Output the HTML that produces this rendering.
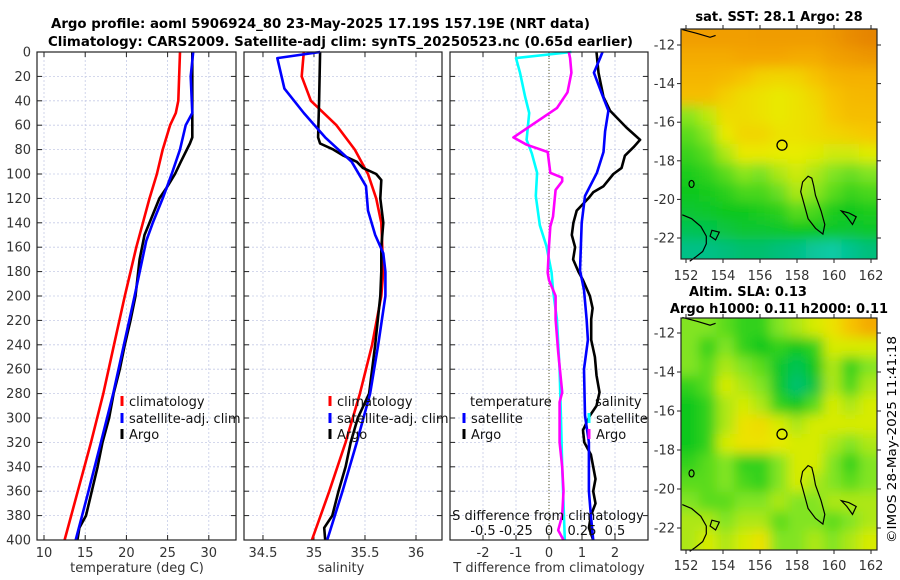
<!DOCTYPE html>
<html><head><meta charset="utf-8"><style>
html,body{margin:0;padding:0;background:#fff;}
svg{display:block;font-family:"DejaVu Sans","Liberation Sans",sans-serif;}
</style></head><body>
<svg id="fig" width="900" height="580" viewBox="0 0 900 580" xmlns="http://www.w3.org/2000/svg">
<defs>
<filter id="mapblur" x="-10%" y="-10%" width="120%" height="120%"><feGaussianBlur stdDeviation="6"/></filter>
<clipPath id="clipsst"><rect x="681" y="29" width="196" height="230"/></clipPath>
<clipPath id="clipsla"><rect x="681" y="318" width="196" height="232"/></clipPath>
</defs>
<rect width="900" height="580" fill="#fff"/>
<text x="51" y="28" font-size="13" font-weight="bold" textLength="539" lengthAdjust="spacingAndGlyphs">Argo profile: aoml 5906924_80 23-May-2025 17.19S 157.19E (NRT data)</text>
<text x="48" y="46" font-size="13" font-weight="bold" textLength="585" lengthAdjust="spacingAndGlyphs">Climatology: CARS2009. Satellite-adj clim: synTS_20250523.nc (0.65d earlier)</text>
<text x="779" y="21" font-size="13" font-weight="bold" text-anchor="middle">sat. SST: 28.1 Argo: 28</text>
<text x="748" y="296" font-size="13" font-weight="bold" text-anchor="middle">Altim. SLA: 0.13</text>
<text x="779" y="313" font-size="13" font-weight="bold" text-anchor="middle">Argo h1000: 0.11 h2000: 0.11</text>
<text transform="translate(896,543) rotate(-90)" font-size="12.5" textLength="207" lengthAdjust="spacingAndGlyphs">©IMOS 28-May-2025 11:41:18</text>
<g id="plots"></g>
</svg>
<script>
// ---- data ----
const depthTicks = [0,20,40,60,80,100,120,140,160,180,200,220,240,260,280,300,320,340,360,380,400];
const tTicks = [10,15,20,25,30];
const sTicks = [34.5,35,35.5,36];
const dTicks = [-2,-1,0,1,2];
const sdTicks = [-0.5,-0.25,0,0.25,0.5];
const sdTickLabels = ["-0.5","-0.25","0","0.25","0.5"];

const tClimDepth = [0,40,50,60,80,100,120,140,160,200,240,280,320,360,400];
const tClimVal   = [26.5,26.3,26.0,25.3,24.4,23.7,22.8,22.0,21.2,19.8,18.5,17.2,15.7,14.1,12.5];
const tSatDepth = [0,20,50,60,80,100,120,140,155,200,240,280,320,360,400];
const tSatVal   = [28.1,27.8,28.0,27.2,26.5,25.5,24.4,23.2,22.4,21.0,19.7,18.4,16.9,15.4,13.85];
const tArgoDepth = [0,50,55,70,75,90,100,110,120,140,150,170,200,220,240,260,280,300,320,340,360,380,390,400];
const tArgoVal   = [28.0,28.0,28.0,28.0,27.7,26.6,25.9,25.0,24.0,22.8,22.2,21.6,21.1,20.5,19.8,19.2,18.45,17.9,17.1,16.5,15.8,15.1,14.3,14.05];

const sClimDepth = [0,20,40,60,80,100,120,140,160,180,200,240,280,320,360,400];
const sClimVal   = [34.90,34.88,34.97,35.22,35.40,35.53,35.61,35.66,35.67,35.68,35.66,35.57,35.45,35.31,35.15,34.98];
const sSatDepth = [0,5,30,50,70,90,110,130,150,165,180,200,240,280,320,360,400];
const sSatVal   = [35.06,34.64,34.71,34.90,35.11,35.37,35.51,35.53,35.60,35.68,35.70,35.70,35.63,35.55,35.42,35.28,35.13];
const sArgoDepth = [0,40,70,75,80,85,90,95,100,105,120,140,160,180,200,240,280,300,320,340,360,380,390,400];
const sArgoVal   = [35.06,35.05,35.04,35.06,35.19,35.29,35.42,35.48,35.61,35.66,35.65,35.68,35.66,35.66,35.65,35.60,35.54,35.43,35.36,35.31,35.24,35.18,35.10,35.11];

// T differences (deg C)
const dtSatDepth = [0,5,17,37,48,65,82,99,118,140,179,195,219,236,260,298,320,360,380,400];
const dtSatVal   = [1.62,1.55,1.36,1.64,1.80,1.70,1.65,1.45,1.09,0.99,0.94,1.06,1.14,1.18,1.06,1.09,1.21,1.21,1.27,1.34];
const dtArgoDepth = [0,17,37,48,62,72,78,85,95,100,110,115,120,130,140,150,160,170,180,187,200,210,219,236,250,265,279,290,298,310,320,330,340,350,360,370,380,390,400];
const dtArgoVal   = [1.44,1.50,1.65,1.85,2.35,2.76,2.56,2.30,2.20,1.95,1.65,1.34,1.19,0.84,0.74,0.69,0.79,0.73,0.89,1.03,1.24,1.32,1.28,1.28,1.39,1.44,1.53,1.44,1.24,1.03,1.07,1.27,1.34,1.41,1.34,1.41,1.27,1.21,1.34];
// S differences (psu)
const dsSatDepth = [0,5,17,37,50,72,83,99,118,142,159,181,195,219,260,298,340,400];
const dsSatVal   = [0.17,-0.25,-0.22,-0.18,-0.15,-0.17,-0.13,-0.09,-0.10,-0.07,-0.02,0.02,0.03,0.06,0.08,0.09,0.10,0.12];
const dsArgoDepth = [0,5,17,33,46,70,76,82,99,103,106,113,135,143,159,181,187,200,219,246,279,287,298,320,340,360,380,392,400];
const dsArgoVal   = [0.15,0.16,0.17,0.14,0.06,-0.27,-0.17,-0.01,0.01,0.10,0.10,0.05,0.03,0.01,0.00,-0.01,0.00,0.05,0.05,0.07,0.10,0.08,0.08,0.08,0.10,0.11,0.10,0.07,0.11];

// maps: 11 lon columns x 12 lat rows (north to south), normalised colour values
const lonTicks = [152,154,156,158,160,162];
const latTicks = [-12,-14,-16,-18,-20,-22];
const sstGrid = [
[0.85,0.85,0.85,0.85,0.86,0.86,0.86,0.86,0.88,0.92,0.95],
[0.80,0.80,0.80,0.82,0.82,0.82,0.80,0.80,0.84,0.86,0.88],
[0.76,0.76,0.74,0.70,0.65,0.64,0.65,0.70,0.76,0.78,0.78],
[0.72,0.72,0.66,0.62,0.60,0.58,0.60,0.64,0.70,0.74,0.75],
[0.46,0.52,0.62,0.62,0.60,0.58,0.60,0.62,0.68,0.72,0.72],
[0.40,0.46,0.58,0.64,0.64,0.60,0.60,0.62,0.64,0.66,0.68],
[0.36,0.40,0.50,0.58,0.58,0.57,0.57,0.56,0.54,0.54,0.56],
[0.32,0.35,0.40,0.46,0.44,0.50,0.54,0.50,0.45,0.42,0.45],
[0.30,0.31,0.34,0.38,0.38,0.42,0.50,0.46,0.40,0.36,0.38],
[0.27,0.28,0.30,0.30,0.32,0.34,0.40,0.38,0.32,0.30,0.32],
[0.22,0.23,0.25,0.27,0.27,0.28,0.30,0.30,0.28,0.27,0.28],
[0.14,0.14,0.16,0.18,0.18,0.16,0.14,0.10,0.08,0.12,0.16]];
const slaGrid = [
[0.45,0.45,0.40,0.35,0.35,0.45,0.50,0.55,0.60,0.70,0.80],
[0.45,0.35,0.45,0.35,0.30,0.35,0.30,0.35,0.55,0.55,0.55],
[0.45,0.40,0.50,0.45,0.40,0.28,0.22,0.30,0.50,0.35,0.45],
[0.35,0.40,0.55,0.50,0.45,0.28,0.18,0.25,0.50,0.38,0.50],
[0.30,0.35,0.50,0.55,0.50,0.35,0.30,0.40,0.55,0.50,0.55],
[0.30,0.35,0.50,0.60,0.62,0.55,0.50,0.55,0.55,0.55,0.55],
[0.30,0.35,0.55,0.60,0.60,0.58,0.55,0.55,0.50,0.45,0.50],
[0.35,0.40,0.45,0.35,0.35,0.45,0.55,0.55,0.45,0.35,0.45],
[0.40,0.40,0.45,0.38,0.35,0.45,0.55,0.50,0.45,0.40,0.45],
[0.45,0.40,0.40,0.45,0.45,0.50,0.45,0.45,0.50,0.50,0.50],
[0.50,0.50,0.45,0.50,0.50,0.40,0.45,0.45,0.40,0.45,0.50],
[0.50,0.55,0.50,0.55,0.60,0.45,0.45,0.50,0.45,0.50,0.55]];
const argoLon = 157.19, argoLat = -17.19;
const islandLon = [158.3,158.6,158.8,158.9,159.0,159.3,159.5,159.4,159.0,158.6,158.4,158.2,158.3];
const islandLat = [-19.1,-18.8,-18.9,-19.3,-19.8,-20.6,-21.3,-21.8,-21.5,-21.0,-20.3,-19.6,-19.1];
const coastLon = [151.8,152.3,152.8,153.1,153.1,152.9,152.5,152.2];
const coastLat = [-20.8,-21.0,-21.4,-21.9,-22.3,-22.7,-23.0,-23.2];
const reefLon = [160.4,160.8,161.2,161.0,160.7,160.4];
const reefLat = [-20.6,-20.7,-20.9,-21.3,-20.9,-20.6];

// ---- helpers ----
const NS = "http://www.w3.org/2000/svg";
const root = document.getElementById('plots');
function mk(tag, attrs, parent, text){
  const e = document.createElementNS(NS, tag);
  for (const k in attrs) e.setAttribute(k, attrs[k]);
  if (text !== undefined) e.textContent = text;
  (parent || root).appendChild(e);
  return e;
}
const Y0 = 52, Y1 = 540;
const yD = d => Y0 + (d/400)*(Y1-Y0);
function lin(d0,d1,r0,r1){ return v => r0 + (v-d0)/(d1-d0)*(r1-r0); }
const panels = [
  {x0:37, x1:236, name:'temperature-panel', xs: lin(9.15,33.3,37,236), ticks:tTicks, labels:tTicks.map(String), xlabel:'temperature (deg C)', lx:137},
  {x0:244, x1:442, name:'salinity-panel', xs: lin(34.314,36.255,244,442), ticks:sTicks, labels:sTicks.map(String), xlabel:'salinity', lx:341},
  {x0:450, x1:648, name:'difference-panel', xs: lin(-3,3,450,648), ticks:dTicks, labels:dTicks.map(String), xlabel:'T difference from climatology', lx:549}
];
panels.forEach((p, pi) => {
  const g = mk('g', {});
  
  
  p.g = g;
  depthTicks.forEach(d => {
    if (d>0 && d<400) {
      const l = mk('line', {x1:p.x0, x2:p.x1, y1:yD(d), y2:yD(d), stroke:'#c5cbe6', 'stroke-width':0.8, 'stroke-dasharray':'2,2'}, g);
      
      
    }
    mk('line', {x1:p.x0, x2:p.x0+5, y1:yD(d), y2:yD(d), stroke:'#222', 'stroke-width':1}, g);
    mk('line', {x1:p.x1-5, x2:p.x1, y1:yD(d), y2:yD(d), stroke:'#222', 'stroke-width':1}, g);
    if (pi === 0) {
      const t = mk('text', {x:31, y:yD(d)+4.5, 'font-size':13, 'text-anchor':'end', fill:'#333'}, g, String(d));
      
      
    }
  });
  p.ticks.forEach((v, i) => {
    const x = p.xs(v);
    const l = mk('line', {x1:x, x2:x, y1:Y0, y2:Y1, stroke:'#c5cbe6', 'stroke-width':0.8, 'stroke-dasharray':'2,2'}, g);
    
    
    mk('line', {x1:x, x2:x, y1:Y1-5, y2:Y1, stroke:'#222'}, g);
    mk('line', {x1:x, x2:x, y1:Y0, y2:Y0+5, stroke:'#222'}, g);
    const t = mk('text', {x:x, y:557, 'font-size':13, 'text-anchor':'middle', fill:'#333'}, g, p.labels[i]);
    
    
  });
  const xl = mk('text', {x:p.lx, y:572, 'font-size':13, 'text-anchor':'middle', fill:'#333'}, g, p.xlabel);
  
  
});
const pd = panels[2];
const zl = mk('line', {x1:pd.xs(0), x2:pd.xs(0), y1:Y0, y2:Y1, stroke:'#5a5a2a', 'stroke-width':1, 'stroke-dasharray':'1,2'}, pd.g);



function series(p, depths, vals, color, name, xf){
  const f = xf || p.xs;
  const pts = depths.map((d,i) => f(vals[i]).toFixed(1)+','+yD(d).toFixed(1)).join(' ');
  const pl = mk('polyline', {points:pts, fill:'none', stroke:color, 'stroke-width':2.6, 'stroke-linejoin':'round'}, p.g);
  
  
}
series(panels[0], tClimDepth, tClimVal, '#ff0000', 'temperature-climatology-line');
series(panels[0], tArgoDepth, tArgoVal, '#000000', 'temperature-argo-line');
series(panels[0], tSatDepth, tSatVal, '#0000ff', 'temperature-satellite-line');
series(panels[1], sClimDepth, sClimVal, '#ff0000', 'salinity-climatology-line');
series(panels[1], sArgoDepth, sArgoVal, '#000000', 'salinity-argo-line');
series(panels[1], sSatDepth, sSatVal, '#0000ff', 'salinity-satellite-line');
const sdx = s => pd.xs(s*4);
series(pd, dsSatDepth, dsSatVal, '#00ffff', 'salinity-diff-satellite-line', sdx);
series(pd, dsArgoDepth, dsArgoVal, '#ff00ff', 'salinity-diff-argo-line', sdx);
series(pd, dtArgoDepth, dtArgoVal, '#000000', 'temperature-diff-argo-line');
series(pd, dtSatDepth, dtSatVal, '#0000ff', 'temperature-diff-satellite-line');

panels.forEach(p => {
  const r = mk('rect', {x:p.x0, y:Y0, width:p.x1-p.x0, height:Y1-Y0, fill:'none', stroke:'#222', 'stroke-width':1.2}, p.g);
  
  
});

mk('text', {x:548, y:520, 'font-size':13, 'text-anchor':'middle', fill:'#111'}, pd.g, 'S difference from climatology');
sdTicks.forEach((v,i) => {
  const t = mk('text', {x:sdx(v), y:535, 'font-size':13, 'text-anchor':'middle', fill:'#111'}, pd.g, sdTickLabels[i]);
  
  
});

function legend(x, y, color, label, name){
  const g = mk('g', {});
  
  
  mk('rect', {x:x-1.5, y:y-10, width:3, height:10, fill:color}, g);
  mk('text', {x:x+7, y:y, 'font-size':13, fill:'#111'}, g, label);
}
legend(122, 406, '#ff0000', 'climatology', 'legend-entry-climatology');
legend(122, 423, '#0000ff', 'satellite-adj. clim', 'legend-entry-satellite');
legend(122, 439, '#000000', 'Argo', 'legend-entry-argo');
legend(330, 406, '#ff0000', 'climatology', 'legend-entry-climatology');
legend(330, 423, '#0000ff', 'satellite-adj. clim', 'legend-entry-satellite');
legend(330, 439, '#000000', 'Argo', 'legend-entry-argo');
mk('text', {x:470, y:406, 'font-size':13, fill:'#111'}, pd.g, 'temperature');
mk('text', {x:595, y:406, 'font-size':13, fill:'#111'}, pd.g, 'salinity');
legend(464, 423, '#0000ff', 'satellite', 'legend-entry-t-satellite');
legend(464, 439, '#000000', 'Argo', 'legend-entry-t-argo');
legend(589, 423, '#00ffff', 'satellite', 'legend-entry-s-satellite');
legend(589, 439, '#ff00ff', 'Argo', 'legend-entry-s-argo');

// ---- maps ----
const cmap = [[0,[20,215,205]],[0.15,[0,190,130]],[0.3,[10,200,30]],[0.45,[130,228,32]],[0.57,[232,236,0]],[0.68,[246,200,0]],[0.82,[244,166,0]],[1,[224,120,0]]];
function col(v){
  for (let i=1;i<cmap.length;i++){
    if (v<=cmap[i][0]){
      const a=cmap[i-1], b=cmap[i], t=(v-a[0])/(b[0]-a[0]);
      const c=a[1].map((q,k)=>Math.round(q+(b[1][k]-q)*t));
      return 'rgb('+c.join(',')+')';
    }
  }
  return 'rgb(224,120,0)';
}
function drawMap(name, grid, fx0, fx1, fy0, fy1, lat12y, lat22y, lonLabelY, clipId){
  const g = mk('g', {});
  
  
  const lx = lin(152,162,686,871);
  const ly = lin(-12,-22,lat12y,lat22y);
  const nr = grid.length, nc = grid[0].length;
  const cw = (fx1-fx0)/nc, ch = (fy1-fy0)/nr;
  const cg = mk('g', {'clip-path':'url(#'+clipId+')'}, g);
  const bg = mk('g', {filter:'url(#mapblur)'}, cg);
  const pad = 20;
  grid.forEach((row, r) => row.forEach((v, c) => {
    let x = fx0+c*cw, y = fy0+r*ch, w = cw+0.6, h = ch+0.6;
    if (c===0){ x-=pad; w+=pad; }
    if (c===nc-1){ w+=pad; }
    if (r===0){ y-=pad; h+=pad; }
    if (r===nr-1){ h+=pad; }
    const cell = mk('rect', {x:x, y:y, width:w, height:h, fill:col(v)}, bg);
    
    
  }));
  const path = (lons, lats) => lons.map((o,i)=>lx(o).toFixed(1)+','+ly(lats[i]).toFixed(1)).join(' ');
  const isl = mk('polygon', {points:path(islandLon, islandLat), fill:'none', stroke:'#000', 'stroke-width':1.2}, g);
  
  
  const cst = mk('polyline', {points:path(coastLon, coastLat), fill:'none', stroke:'#000', 'stroke-width':1.2}, g);
  
  
  const rf = mk('polygon', {points:path(reefLon, reefLat), fill:'none', stroke:'#000', 'stroke-width':1.2}, g);
  
  
  mk('polyline', {points:path([151.8,152.6,153.3,153.6],[-11.2,-11.4,-11.6,-11.5]), fill:'none', stroke:'#000', 'stroke-width':1.2}, g);
  mk('ellipse', {cx:lx(152.3), cy:ly(-19.2), rx:2.5, ry:3.5, fill:'none', stroke:'#000', 'stroke-width':1.2}, g);
  mk('polygon', {points:path([153.4,153.8,153.6,153.3],[-21.6,-21.7,-22.1,-21.9]), fill:'none', stroke:'#000', 'stroke-width':1.2}, g);
  const mk1 = mk('circle', {cx:lx(argoLon), cy:ly(argoLat), r:5, fill:'none', stroke:'#000', 'stroke-width':1.3}, g);
  
  
  mk('rect', {x:fx0, y:fy0, width:fx1-fx0, height:fy1-fy0, fill:'none', stroke:'#222', 'stroke-width':1.2}, g);
  lonTicks.forEach(o => {
    mk('line', {x1:lx(o), x2:lx(o), y1:fy1, y2:fy1+4, stroke:'#222'}, g);
    mk('line', {x1:lx(o), x2:lx(o), y1:fy0-4, y2:fy0, stroke:'#222'}, g);
    const t = mk('text', {x:lx(o), y:lonLabelY, 'font-size':13, 'text-anchor':'middle', fill:'#333'}, g, String(o));
    
    
  });
  latTicks.forEach(a => {
    mk('line', {x1:fx0-4, x2:fx0, y1:ly(a), y2:ly(a), stroke:'#222'}, g);
    mk('line', {x1:fx1, x2:fx1+4, y1:ly(a), y2:ly(a), stroke:'#222'}, g);
    const t = mk('text', {x:fx0-6, y:ly(a)+4.5, 'font-size':13, 'text-anchor':'end', fill:'#333'}, g, String(a));
    
    
  });
}
drawMap('sst-map', sstGrid, 681, 877, 29, 259, 45, 238, 280, 'clipsst');
drawMap('sla-map', slaGrid, 681, 877, 318, 550, 333, 528, 570, 'clipsla');
</script>
</body></html>
